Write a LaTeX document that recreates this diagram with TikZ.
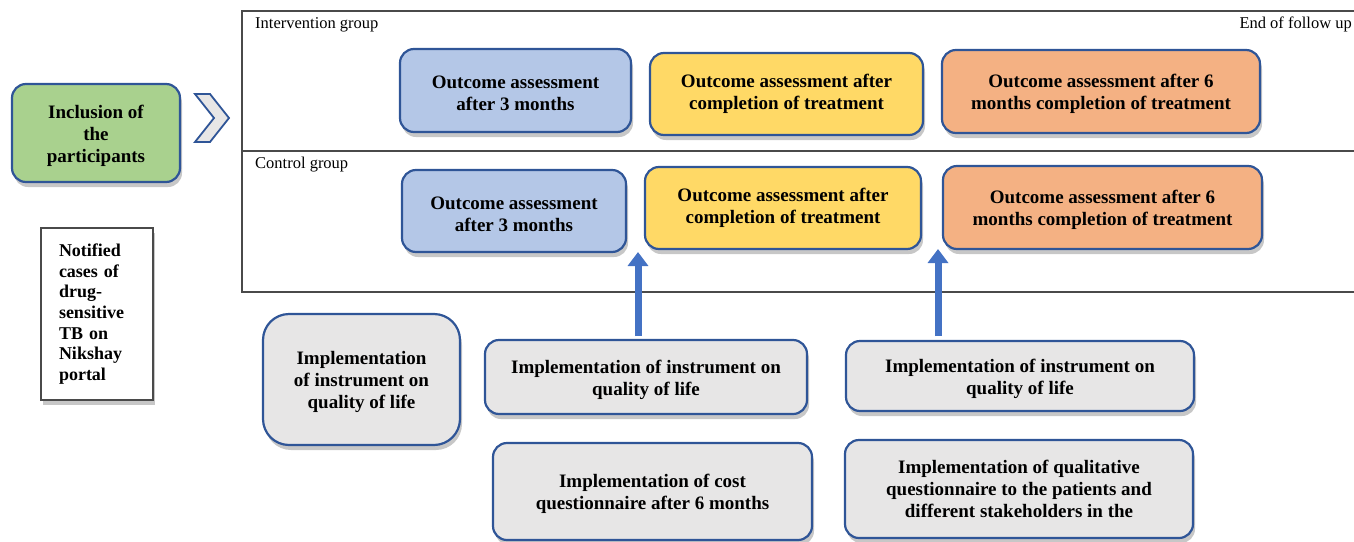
\documentclass[tikz,border=0pt]{standalone}
\usepackage{fontspec}
\setmainfont{Liberation Serif}
\usetikzlibrary{shadows,arrows.meta}
\definecolor{gfill}{HTML}{A9D18E}
\definecolor{bfill}{HTML}{B4C7E7}
\definecolor{yfill}{HTML}{FFD966}
\definecolor{ofill}{HTML}{F4B183}
\definecolor{grfill}{HTML}{E7E6E6}
\definecolor{edge}{HTML}{2F5597}
\definecolor{arrowblue}{HTML}{4472C4}
\definecolor{framecol}{HTML}{4A4A4A}
\newcommand{\lowr}{\rule{0pt}{19pt}}
\tikzset{
  card/.style={draw=edge, line width=2.2pt, rounded corners=14pt, align=center,
    font=\bfseries\fontsize{19}{22}\selectfont, inner sep=0pt,
    drop shadow={shadow xshift=2pt, shadow yshift=-5pt, fill=black, opacity=0.22}},
  framelines/.style={draw=framecol, line width=1.3pt},
  grouplabel/.style={font=\fontsize{16.5}{19}\selectfont, inner sep=0pt},
  uparrow/.style={draw=arrowblue, line width=7pt, -{Triangle[width=20pt,length=14pt]}},
}
\begin{document}
\begin{tikzpicture}[x=1pt,y=-1pt]
\useasboundingbox (0,0) rectangle (1354,541);

% frame
\draw[framelines] (1358,11) -- (242,11) -- (242,292) -- (1358,292);
\draw[framelines] (242,151) -- (1358,151);
\node[grouplabel, anchor=base west] (ig) at (255,28) {Intervention group};
\node[grouplabel, anchor=base east] (ef) at (1352,28) {End of follow up};
\node[grouplabel, anchor=base west] (cg) at (255,168) {Control group};

% inclusion
\node[card, fill=gfill, minimum width=168pt, minimum height=98pt] (incl) at (96,133)
  {\lowr Inclusion of\\the\\participants};

% chevron
\draw[draw=edge, line width=1.8pt, fill=grfill, line join=miter]
  (195,94) -- (210,94) -- (229,118) -- (210,142) -- (195,142) -- (214,118) -- cycle;

% notified
\node[draw=framecol, line width=1.3pt, fill=white, minimum width=112pt, minimum height=172pt,
  text width=76pt, align=left, inner sep=0pt,
  font=\bfseries\fontsize{18}{20.6}\selectfont,
  drop shadow={shadow xshift=2pt, shadow yshift=-5pt, fill=black, opacity=0.22}] (notif) at (97,314)
  {Notified\\cases of\\drug-\\sensitive\\TB on\\Nikshay\\portal};

% intervention row
\node[card, fill=bfill, minimum width=231pt, minimum height=83pt] (ib) at (515.5,90.5)
  {\lowr Outcome assessment\\after 3 months};
\node[card, fill=yfill, minimum width=273pt, minimum height=82pt] (iy) at (786.5,94)
  {Outcome assessment after\\completion of treatment};
\node[card, fill=ofill, minimum width=318pt, minimum height=83pt] (io) at (1101,91.5)
  {\lowr Outcome assessment after 6\\months completion of treatment};

% control row
\node[card, fill=bfill, minimum width=224pt, minimum height=82pt] (cb) at (514,211)
  {\lowr Outcome assessment\\after 3 months};
\node[card, fill=yfill, minimum width=276pt, minimum height=82pt] (cy) at (783,208)
  {Outcome assessment after\\completion of treatment};
\node[card, fill=ofill, minimum width=319pt, minimum height=83pt] (co) at (1102.5,207.5)
  {\lowr Outcome assessment after 6\\months completion of treatment};

% bottom gray boxes
\node[card, fill=grfill, rounded corners=26pt, minimum width=197pt, minimum height=131pt] (g1) at (361.5,379.5)
  {\lowr Implementation\\of instrument on\\quality of life};
\node[card, fill=grfill, minimum width=322pt, minimum height=74pt] (g2) at (646,377)
  {\lowr Implementation of instrument on\\quality of life};
\node[card, fill=grfill, minimum width=319pt, minimum height=97pt] (g3) at (652.5,491.5)
  {\lowr Implementation of cost\\questionnaire after 6 months};
\node[card, fill=grfill, minimum width=348pt, minimum height=70pt] (g4) at (1020,376)
  {\lowr Implementation of instrument on\\quality of life};
\node[card, fill=grfill, minimum width=348pt, minimum height=98pt] (g5) at (1019,489)
  {Implementation of qualitative\\questionnaire to the patients and\\different stakeholders in the};

% arrows
\coordinate (a1s) at (638,336);
\coordinate (a1e) at (638,252);
\coordinate (a2s) at (938,336);
\coordinate (a2e) at (938,249);
\draw[uparrow] (a1s) -- (a1e);
\draw[uparrow] (a2s) -- (a2e);
\end{tikzpicture}
\end{document}
